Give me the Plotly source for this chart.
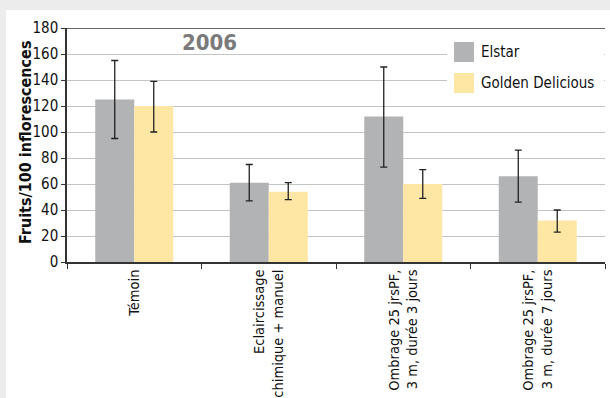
import plotly.graph_objects as go

# Fruit set per treatment, 2006
categories = [
    "Témoin",
    "Eclaircissage<br>chimique + manuel",
    "Ombrage 25 jrsPF,<br>3 m, durée 3 jours",
    "Ombrage 25 jrsPF,<br>3 m, durée 7 jours",
]
elstar = [125, 61, 112, 66]
elstar_high = [155, 75, 150, 86]
elstar_low = [95, 47, 73, 46]
golden = [120, 54, 60, 32]
golden_high = [139, 61, 71, 40]
golden_low = [100, 48, 49, 23]
series_names = ["Elstar", "Golden Delicious"]
y_ticks = [0, 20, 40, 60, 80, 100, 120, 140, 160, 180]

FONT = "DejaVu Sans Condensed, Liberation Sans Narrow, Arial Narrow, sans-serif"
GREY = "#b2b3b5"
YELLOW = "#fee7a4"
PAGE = "#ebeceb"


def err(vals, hi, lo):
    return dict(
        type="data", symmetric=False,
        array=[h - v for h, v in zip(hi, vals)],
        arrayminus=[v - l for v, l in zip(vals, lo)],
        color="#222222", thickness=1.3, width=3.5,
    )


fig = go.Figure()
fig.add_bar(x=categories, y=elstar, name=series_names[0], marker_color=GREY,
            marker_line_width=0, error_y=err(elstar, elstar_high, elstar_low))
fig.add_bar(x=categories, y=golden, name=series_names[1], marker_color=YELLOW,
            marker_line_width=0, error_y=err(golden, golden_high, golden_low))

L, R, T, B = 67, 5, 28, 136
W, H = 610, 398
pw, ph = W - L - R, H - T - B


def px(x):
    return (x - L) / pw


def py(y):
    return (H - B - y) / ph


shapes = [
    # grey page border (top and left strips)
    dict(type="rect", xref="paper", yref="paper", layer="below",
         x0=px(-5), x1=px(620), y0=py(10), y1=py(-5),
         fillcolor=PAGE, line_width=0),
    dict(type="rect", xref="paper", yref="paper", layer="below",
         x0=px(-5), x1=px(6), y0=py(-5), y1=py(410),
         fillcolor=PAGE, line_width=0),
    # legend backing
    dict(type="rect", xref="paper", yref="paper", layer="above",
         x0=px(447), x1=px(604), y0=py(36), y1=py(100),
         fillcolor="white", line_width=0),
    dict(type="rect", xref="paper", yref="paper", layer="above",
         x0=px(454), x1=px(474), y0=py(42), y1=py(62),
         fillcolor=GREY, line_width=0),
    dict(type="rect", xref="paper", yref="paper", layer="above",
         x0=px(454), x1=px(474), y0=py(73), y1=py(93),
         fillcolor=YELLOW, line_width=0),
    # top border line at 180
    dict(type="line", xref="paper", yref="y", x0=0, x1=1, y0=180, y1=180,
         line=dict(color="#333333", width=1.5), layer="above"),
]

annotations = [
    dict(text="<b>2006</b>", xref="paper", yref="paper", x=px(209), y=py(42),
         xanchor="center", yanchor="middle", showarrow=False,
         font=dict(family=FONT, size=22, color="#7a7a7a")),
    dict(text=series_names[0], xref="paper", yref="paper", x=px(479), y=py(52),
         xanchor="left", yanchor="middle", showarrow=False,
         font=dict(family=FONT, size=15, color="#111111")),
    dict(text=series_names[1], xref="paper", yref="paper", x=px(479), y=py(83),
         xanchor="left", yanchor="middle", showarrow=False,
         font=dict(family=FONT, size=15, color="#111111")),
    dict(text="<b>Fruits/100 inflorescences</b>", xref="paper", yref="paper",
         x=px(25), y=py(143), xanchor="center", yanchor="middle",
         textangle=-90, showarrow=False,
         font=dict(family=FONT, size=16, color="#111111")),
]

fig.update_layout(
    width=W, height=H,
    margin=dict(l=L, r=R, t=T, b=B),
    paper_bgcolor="white",
    plot_bgcolor="white",
    barmode="group",
    bargap=0.42,
    bargroupgap=0,
    showlegend=False,
    font=dict(family=FONT, size=14, color="#111111"),
    shapes=shapes,
    annotations=annotations,
)
fig.update_xaxes(
    tickangle=-90, tickson="boundaries", ticks="outside", ticklen=5,
    tickcolor="#333333", showline=True, linecolor="#333333", linewidth=1.5,
    tickfont=dict(family=FONT, size=14.5), showgrid=False, automargin=False,
)
fig.update_yaxes(
    range=[0, 180], tickvals=y_ticks, ticks="outside", ticklen=4,
    tickcolor="#333333", showline=True, linecolor="#333333", linewidth=1.5,
    gridcolor="#c4c4c4", gridwidth=1, zeroline=False, automargin=False,
    tickfont=dict(family=FONT, size=15),
)

fig.write_html("out.html")
